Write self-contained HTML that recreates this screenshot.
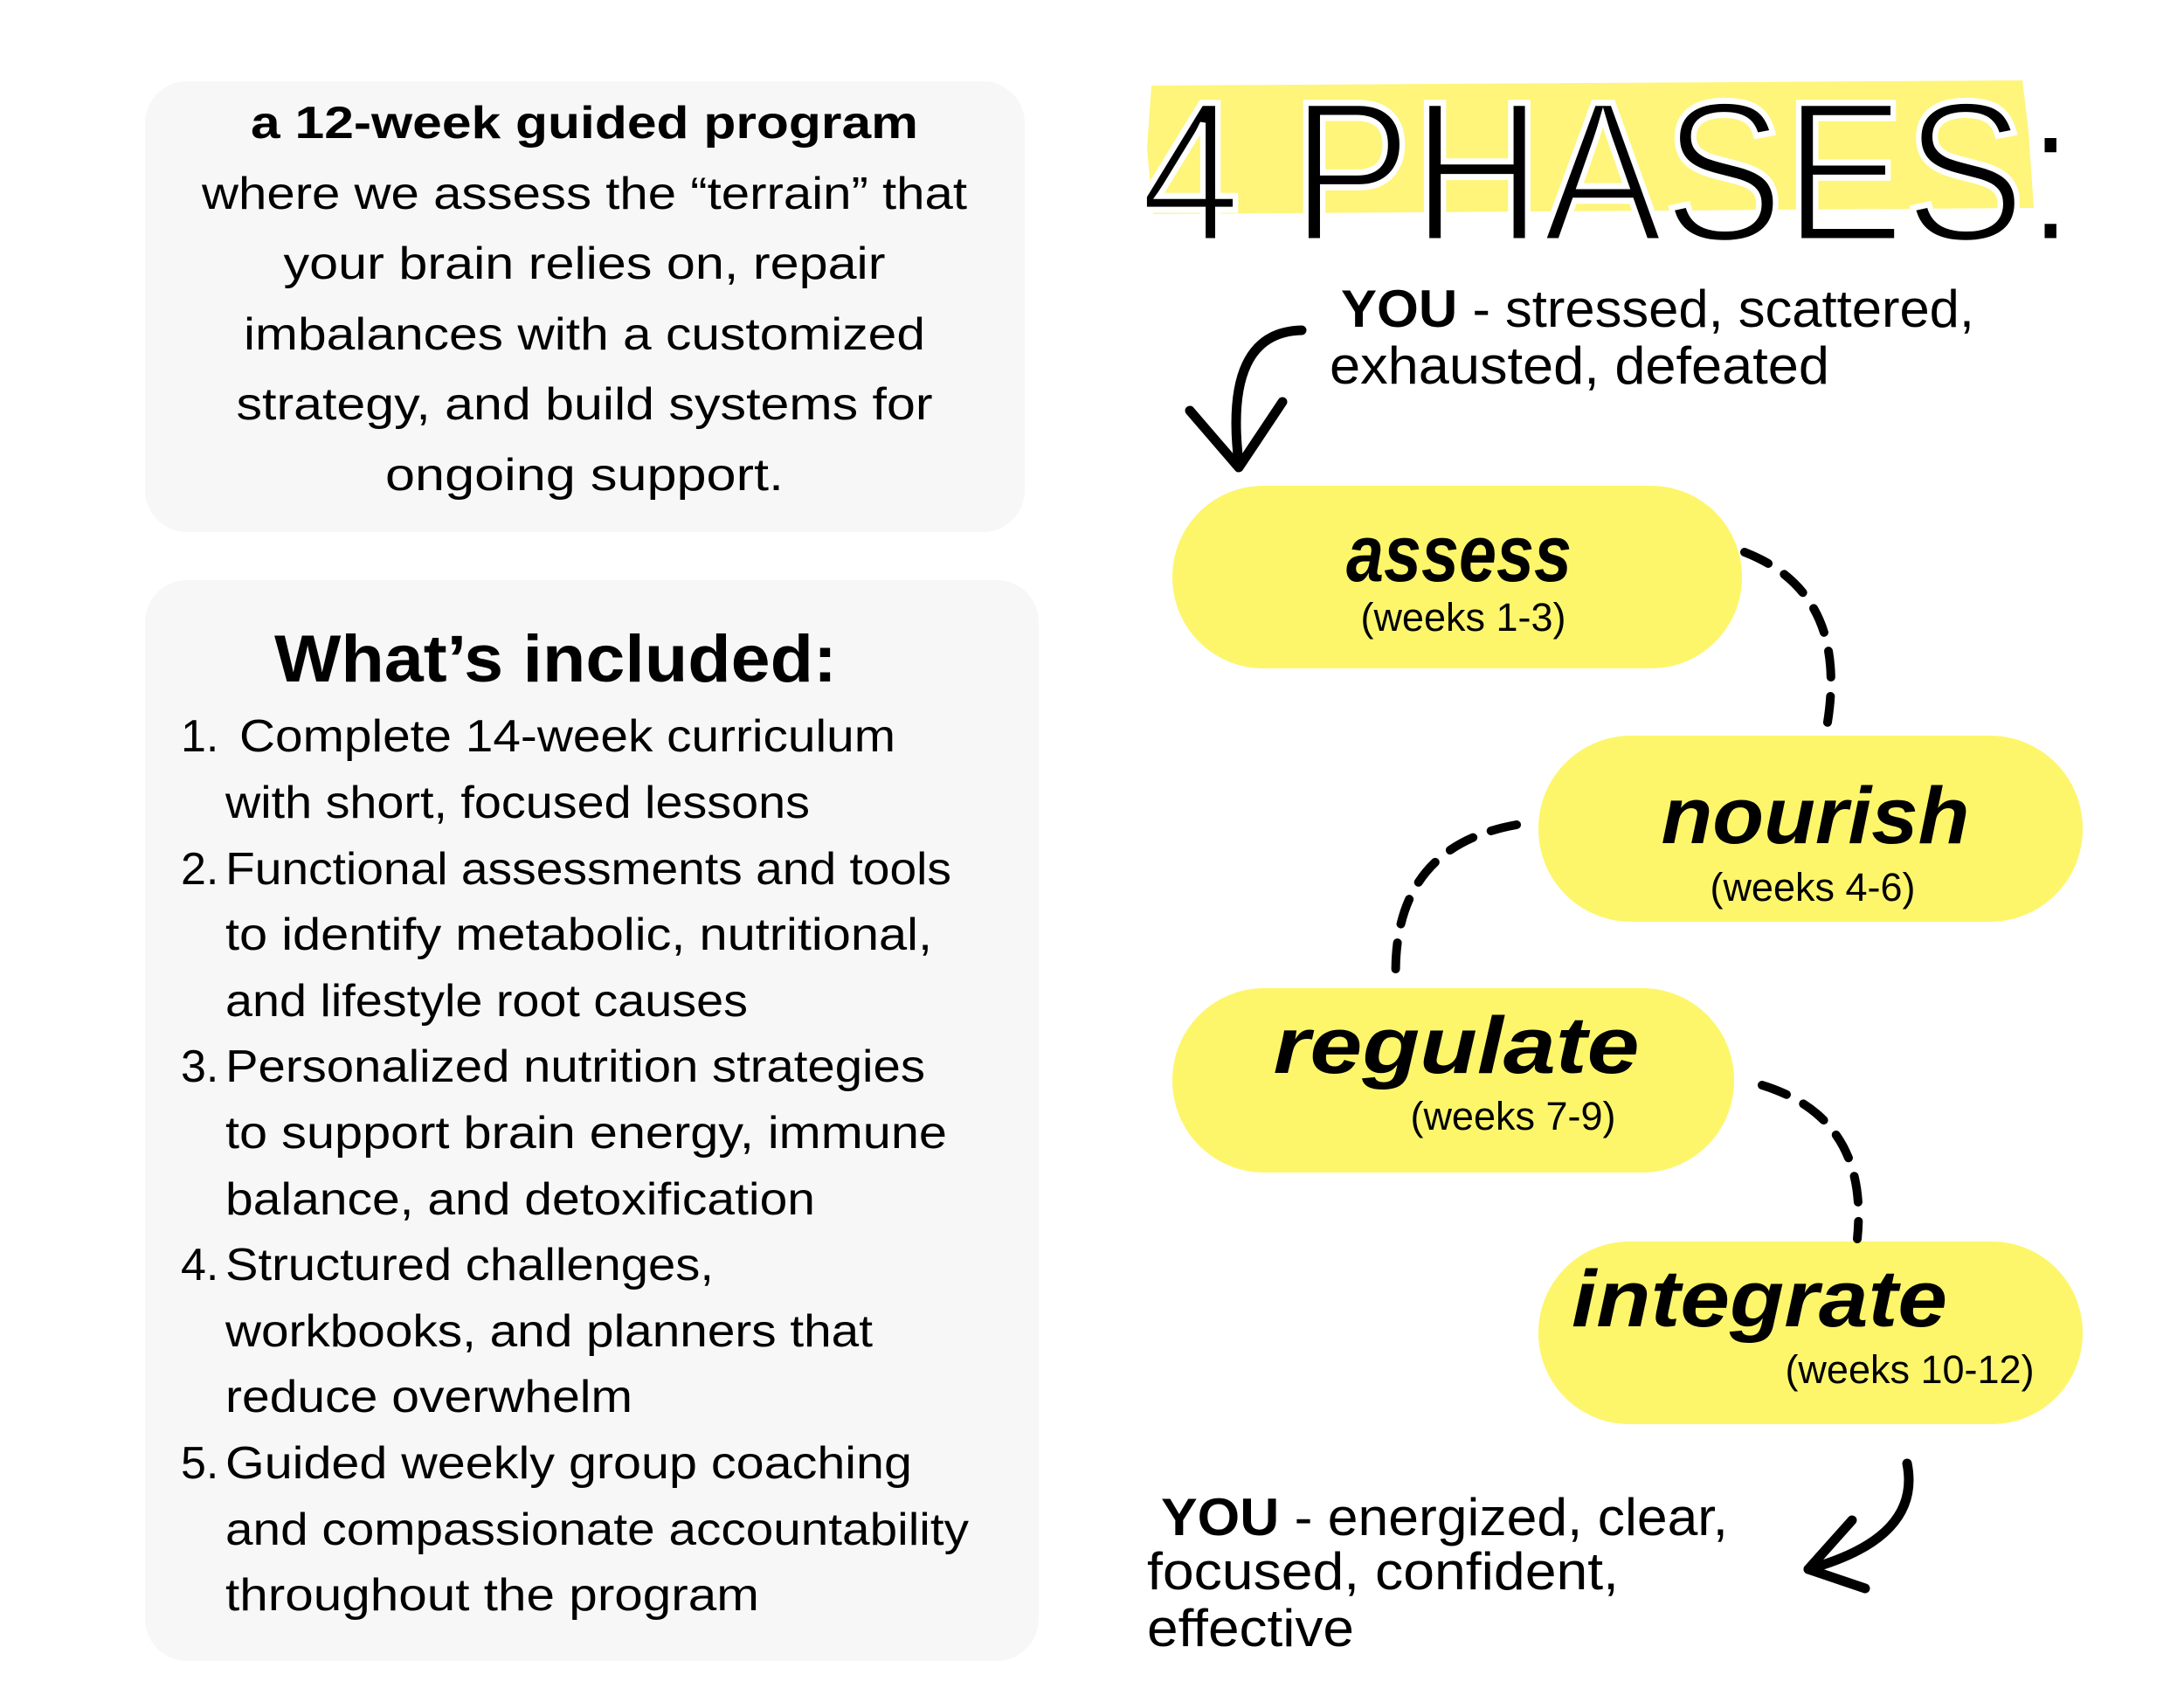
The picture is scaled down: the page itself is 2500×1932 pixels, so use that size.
<!DOCTYPE html>
<html><head><meta charset="utf-8"><style>
html,body{margin:0;padding:0;background:#fff;}
svg{display:block}
text{font-family:"Liberation Sans",sans-serif;fill:#000}
</style></head><body>
<svg width="2500" height="1932" viewBox="0 0 2500 1932" xmlns="http://www.w3.org/2000/svg">
<rect x="166" y="93" width="1007" height="516" rx="48" fill="#f7f7f7"/>
<rect x="166" y="664" width="1023" height="1237" rx="48" fill="#f7f7f7"/>
<g font-size="52" text-anchor="middle" lengthAdjust="spacingAndGlyphs">
<text x="669" y="158" font-weight="bold" textLength="764" lengthAdjust="spacingAndGlyphs">a 12-week guided program</text>
<text x="669" y="239" textLength="876" lengthAdjust="spacingAndGlyphs">where we assess the “terrain” that</text>
<text x="669" y="319" textLength="689" lengthAdjust="spacingAndGlyphs">your brain relies on, repair</text>
<text x="669" y="400" textLength="780" lengthAdjust="spacingAndGlyphs">imbalances with a customized</text>
<text x="669" y="480" textLength="797" lengthAdjust="spacingAndGlyphs">strategy, and build systems for</text>
<text x="669" y="561" textLength="456" lengthAdjust="spacingAndGlyphs">ongoing support.</text>
</g>
<text x="636" y="780" font-size="76" font-weight="bold" text-anchor="middle" textLength="644" lengthAdjust="spacingAndGlyphs">What’s included:</text>
<g font-size="52">
<text x="207" y="860">1.</text><text x="274" y="860" textLength="751" lengthAdjust="spacingAndGlyphs">Complete 14-week curriculum</text>
<text x="258" y="936" textLength="669" lengthAdjust="spacingAndGlyphs">with short, focused lessons</text>
<text x="207" y="1012">2.</text><text x="258" y="1012" textLength="831" lengthAdjust="spacingAndGlyphs">Functional assessments and tools</text>
<text x="258" y="1087" textLength="809" lengthAdjust="spacingAndGlyphs">to identify metabolic, nutritional,</text>
<text x="258" y="1163" textLength="598" lengthAdjust="spacingAndGlyphs">and lifestyle root causes</text>
<text x="207" y="1238">3.</text><text x="258" y="1238" textLength="801" lengthAdjust="spacingAndGlyphs">Personalized nutrition strategies</text>
<text x="258" y="1314" textLength="826" lengthAdjust="spacingAndGlyphs">to support brain energy, immune</text>
<text x="258" y="1390" textLength="675" lengthAdjust="spacingAndGlyphs">balance, and detoxification</text>
<text x="207" y="1465">4.</text><text x="258" y="1465" textLength="559" lengthAdjust="spacingAndGlyphs">Structured challenges,</text>
<text x="258" y="1541" textLength="741" lengthAdjust="spacingAndGlyphs">workbooks, and planners that</text>
<text x="258" y="1616" textLength="466" lengthAdjust="spacingAndGlyphs">reduce overwhelm</text>
<text x="207" y="1692">5.</text><text x="258" y="1692" textLength="786" lengthAdjust="spacingAndGlyphs">Guided weekly group coaching</text>
<text x="258" y="1768" textLength="851" lengthAdjust="spacingAndGlyphs">and compassionate accountability</text>
<text x="258" y="1843" textLength="611" lengthAdjust="spacingAndGlyphs">throughout the program</text>
</g>
<!-- title -->
<path d="M1318 98 L2315 92 L2322 150 L2328 238 L1320 245 L1313 170 Z" fill="#fef57a"/>
<text x="1305" y="276" font-size="230" font-weight="300" textLength="1071" lengthAdjust="spacingAndGlyphs" stroke="#fff" stroke-width="7" paint-order="normal">4 PHASES:</text>
<g font-size="60">
<text x="1535" y="374" textLength="725" lengthAdjust="spacingAndGlyphs"><tspan font-weight="bold">YOU</tspan> - stressed, scattered,</text>
<text x="1522" y="439" textLength="572" lengthAdjust="spacingAndGlyphs">exhausted, defeated</text>
<text x="1329" y="1757" textLength="649" lengthAdjust="spacingAndGlyphs"><tspan font-weight="bold">YOU</tspan> - energized, clear,</text>
<text x="1313" y="1819" textLength="540" lengthAdjust="spacingAndGlyphs">focused, confident,</text>
<text x="1313" y="1884" textLength="237" lengthAdjust="spacingAndGlyphs">effective</text>
</g>
<!-- pills -->
<g fill="#fdf66b">
<rect x="1342" y="556" width="652" height="209" rx="104"/>
<rect x="1761" y="842" width="623" height="213" rx="106"/>
<rect x="1342" y="1131" width="643" height="211" rx="105"/>
<rect x="1761" y="1421" width="623" height="209" rx="104"/>
</g>
<g font-style="italic" font-weight="bold" text-anchor="middle" font-size="92">
<text x="1670" y="665" textLength="258" lengthAdjust="spacingAndGlyphs">assess</text>
<text x="2078" y="965" textLength="353" lengthAdjust="spacingAndGlyphs">nourish</text>
<text x="1667" y="1228" textLength="419" lengthAdjust="spacingAndGlyphs">regulate</text>
<text x="2014" y="1518" textLength="430" lengthAdjust="spacingAndGlyphs">integrate</text>
</g>
<g font-size="45" text-anchor="middle">
<text x="1675" y="722">(weeks 1-3)</text>
<text x="2075" y="1031">(weeks 4-6)</text>
<text x="1732" y="1293">(weeks 7-9)</text>
<text x="2186" y="1583">(weeks 10-12)</text>
</g>
<!-- connectors -->
<g fill="none" stroke="#000" stroke-width="10" stroke-linecap="round" stroke-dasharray="30 22">
<path d="M1997 632 Q2120 680 2090 838"/>
<path d="M1736 944 Q1590 970 1598 1128"/>
<path d="M2017 1242 Q2140 1280 2126 1418"/>
</g>
<g fill="none" stroke="#000" stroke-width="11" stroke-linecap="round" stroke-linejoin="round">
<path d="M1490 378 Q1400 380 1418 530"/>
<path d="M1362 470 L1418 535 L1468 460"/>
<path d="M2183 1675 Q2200 1760 2070 1796"/>
<path d="M2120 1740 L2070 1796 L2135 1818"/>
</g>
</svg>
</body></html>
